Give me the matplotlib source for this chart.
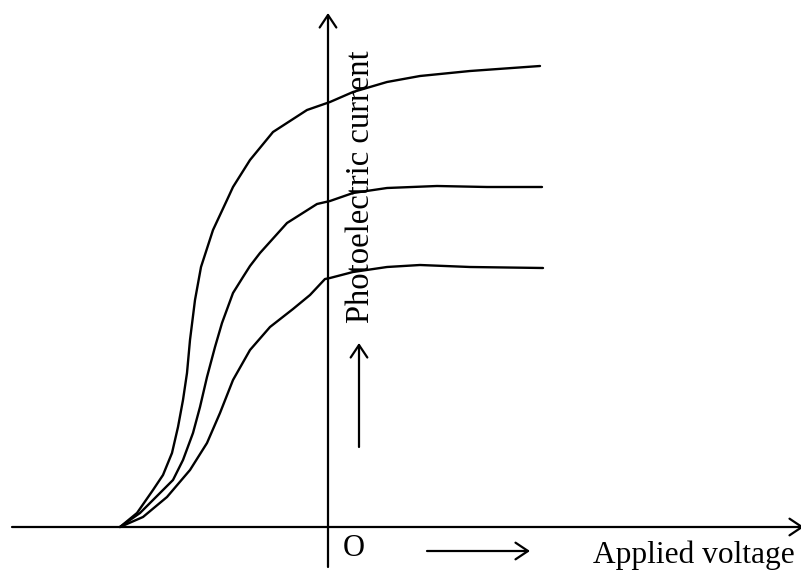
import matplotlib
matplotlib.use("Agg")
import matplotlib.pyplot as plt

# Schematic photoelectric curves (arbitrary units, origin at O)
# voltage read along x, current read along y

# top curve (highest intensity)
v_top = [-2.08, -1.91, -1.75, -1.65, -1.56, -1.50, -1.45, -1.41, -1.38, -1.33,
         -1.27, -1.15, -1.01, -0.95, -0.78, -0.55, -0.21, 0.02, 0.25, 0.59,
         0.92, 1.42, 2.12]
i_top = [0.0, 0.14, 0.37, 0.52, 0.74, 1.00, 1.27, 1.54, 1.87, 2.27,
         2.60, 2.97, 3.27, 3.40, 3.67, 3.95, 4.17, 4.25, 4.35, 4.45,
         4.51, 4.56, 4.61]

# middle curve
v_mid = [-2.08, -1.88, -1.68, -1.55, -1.45, -1.35, -1.28, -1.21, -1.13, -1.06,
         -0.95, -0.85, -0.78, -0.68, -0.41, -0.11, 0.02, 0.25, 0.59, 1.09,
         1.59, 2.14]
i_mid = [0.0, 0.14, 0.34, 0.47, 0.67, 0.94, 1.20, 1.50, 1.80, 2.04,
         2.34, 2.50, 2.61, 2.74, 3.04, 3.23, 3.26, 3.34, 3.39, 3.41,
         3.40, 3.40]

# bottom curve (lowest intensity)
v_low = [-2.08, -1.85, -1.61, -1.38, -1.21, -1.08, -0.95, -0.78, -0.58, -0.35,
         -0.18, -0.03, 0.02, 0.25, 0.59, 0.92, 1.42, 2.15]
i_low = [0.0, 0.10, 0.30, 0.57, 0.84, 1.14, 1.47, 1.77, 2.00, 2.18,
         2.32, 2.48, 2.49, 2.55, 2.60, 2.62, 2.60, 2.59]

x_label = "Applied voltage"
y_label = "Photoelectric current"
origin_label = "O"

fig = plt.figure(figsize=(8.01, 5.72), dpi=100)
ax = fig.add_axes([0, 0, 1, 1])
ax.set_xlim(-3.28, 4.73)
ax.set_ylim(-0.45, 5.27)
ax.axis("off")

for v, i in [(v_top, i_top), (v_mid, i_mid), (v_low, i_low)]:
    ax.plot(v, i, color="black", lw=1.7, solid_capstyle="round",
            solid_joinstyle="round")

arrow = dict(arrowstyle="->, head_length=0.45, head_width=0.3", lw=1.6,
             color="black", mutation_scale=20, shrinkA=0, shrinkB=0)

# axes with arrow heads (x arrow runs off the right edge like the original)
ax.annotate("", xy=(4.76, 0), xytext=(-3.16, 0), arrowprops=arrow,
            annotation_clip=False)
ax.annotate("", xy=(0, 5.14), xytext=(0, -0.40), arrowprops=arrow,
            annotation_clip=False)

# small direction arrows next to labels
ax.annotate("", xy=(2.02, -0.24), xytext=(0.99, -0.24), arrowprops=arrow)
ax.annotate("", xy=(0.31, 1.84), xytext=(0.31, 0.80), arrowprops=arrow)

font = dict(family="Liberation Serif", color="black")
ax.text(0.15, -0.29, origin_label, ha="left", va="baseline", size=22, **font)
ax.text(2.65, -0.36, x_label, ha="left", va="baseline", size=22.6, **font)
ax.text(0.41, 2.04, y_label, ha="left", va="baseline", rotation=90,
        rotation_mode="anchor", size=23.5, **font)

fig.savefig("out.png", dpi=100)
